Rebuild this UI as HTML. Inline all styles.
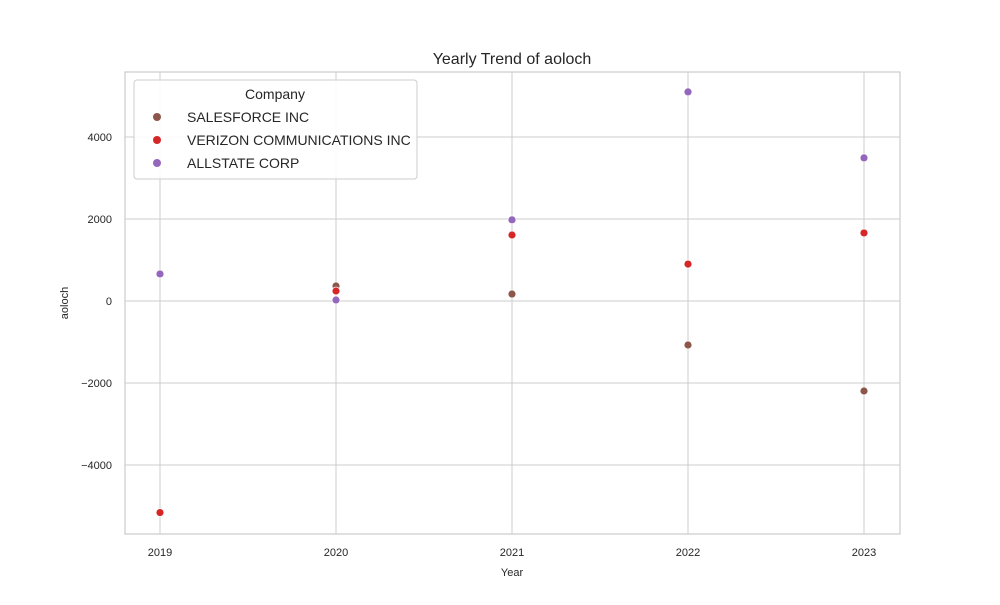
<!DOCTYPE html>
<html><head><meta charset="utf-8"><style>
body{margin:0;background:#fff;font-family:"Liberation Sans",sans-serif;}
svg text{font-family:"Liberation Sans",sans-serif;fill:#262626;}
</style></head><body>
<svg id="chart" width="1000" height="600">
<rect width="1000" height="600" fill="#fff"/>
<g id="grid"></g><g id="axes"></g><g id="marks"></g><g id="legend"></g>
</svg>
<script>
const years=[2019,2020,2021,2022,2023];
const companies=["SALESFORCE INC","VERIZON COMMUNICATIONS INC","ALLSTATE CORP"];
const colors=["#8c564b","#d62728","#9467bd"];
const salesforce=[null,366,170,-1073,-2195];
const verizon=[-5160,244,1610,900,1660];
const allstate=[660,24,1980,5100,3490];
const yTicks=[-4000,-2000,0,2000,4000];
const series=[salesforce,verizon,allstate];
const NS="http://www.w3.org/2000/svg";
const L=125,R=900,T=72,B=534;
function xs(v){return 160+(v-2019)*176;}
function ys(v){return 301-v*0.041;}
function mk(tag,attrs,parent,txt){const e=document.createElementNS(NS,tag);for(const k in attrs)e.setAttribute(k,attrs[k]);if(txt!==undefined)e.textContent=txt;document.getElementById(parent).appendChild(e);return e;}
let e;
years.forEach(y=>{
 e=mk('line',{x1:xs(y),x2:xs(y),y1:T,y2:B,stroke:'#cccccc','stroke-width':1},'grid');
 
 e=mk('text',{x:xs(y),y:556,'text-anchor':'middle','font-size':11},'axes',y);
 
});
yTicks.forEach(v=>{
 e=mk('line',{x1:L,x2:R,y1:ys(v),y2:ys(v),stroke:'#cccccc','stroke-width':1},'grid');
 
 e=mk('text',{x:112,y:ys(v)+4,'text-anchor':'end','font-size':11},'axes',v<0?'\u2212'+(-v):v);
 
});
e=mk('rect',{x:L,y:T,width:R-L,height:B-T,fill:'none',stroke:'#cccccc','stroke-width':1.2},'axes');

e=mk('text',{x:512,y:64,'text-anchor':'middle','font-size':16},'axes','Yearly Trend of aoloch');

e=mk('text',{x:512,y:576,'text-anchor':'middle','font-size':11},'axes','Year');

e=mk('text',{x:68,y:303,'text-anchor':'middle','font-size':11,transform:'rotate(-90 68 303)'},'axes','aoloch');

series.forEach((s,i)=>{s.forEach((v,j)=>{if(v===null)return;
 e=mk('circle',{cx:xs(years[j]),cy:ys(v),r:4,fill:colors[i],stroke:'#fff','stroke-width':0.8},'marks');
 
});});
e=mk('rect',{x:134,y:80,width:283,height:99,rx:3,fill:'#fff','fill-opacity':0.85,stroke:'#cccccc'},'legend');

e=mk('text',{x:275,y:99,'text-anchor':'middle','font-size':14},'legend','Company');

companies.forEach((c,i)=>{
 const y=117+i*23;
 e=mk('circle',{cx:157,cy:y,r:4,fill:colors[i]},'legend');
 
 e=mk('text',{x:187,y:y+5,'font-size':14},'legend',c);
 
});
</script>
</body></html>
